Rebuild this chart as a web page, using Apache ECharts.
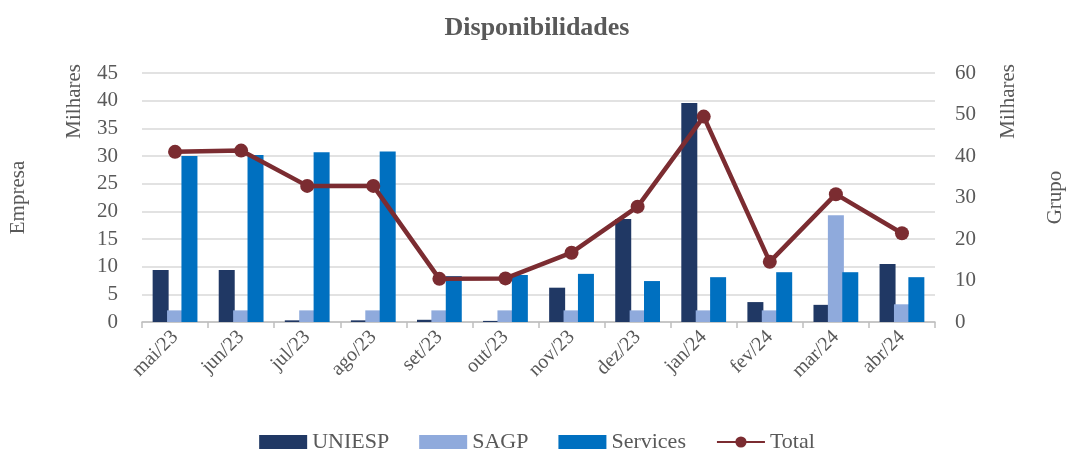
<!DOCTYPE html>
<html>
<head>
<meta charset="utf-8">
<script src="https://cdn.jsdelivr.net/npm/echarts@6/dist/echarts.min.js"></script>
<style>
  html, body { margin: 0; padding: 0; background: #fff; }
  #chart { width: 1074px; height: 452px; }
</style>
</head>
<body>
<div id="chart"></div>
<script>
  // meses
  const categorias = ['mai/23', 'jun/23', 'jul/23', 'ago/23', 'set/23', 'out/23',
                      'nov/23', 'dez/23', 'jan/24', 'fev/24', 'mar/24', 'abr/24'];
  // valores em milhares (eixo Empresa)
  const uniesp   = [9.4, 9.4, 0.3, 0.3, 0.4, 0.2, 6.2, 18.6, 39.6, 3.6, 3.1, 10.5];
  const sagp     = [2.1, 2.1, 2.1, 2.1, 2.1, 2.1, 2.1, 2.1, 2.1, 2.1, 19.3, 3.2];
  const services = [30.0, 30.2, 30.7, 30.8, 8.3, 8.5, 8.7, 7.4, 8.1, 9.0, 9.0, 8.1];
  // total em milhares (eixo Grupo)
  const total    = [41.0, 41.3, 32.8, 32.8, 10.4, 10.5, 16.7, 27.8, 49.5, 14.5, 30.8, 21.4];

  const fonte = 'Liberation Serif, serif';
  const cinza = '#595959';

  const myChart = echarts.init(document.getElementById('chart'));

  const option = {
    backgroundColor: '#fff',
    textStyle: { fontFamily: fonte },
    title: {
      text: 'Disponibilidades',
      left: 'center',
      top: 10,
      textStyle: { fontFamily: fonte, fontSize: 26, fontWeight: 'bold', color: cinza }
    },
    grid: { left: 142, right: 129, top: 73, bottom: 130 },
    legend: {
      bottom: -6,
      left: 'center',
      itemWidth: 48,
      itemHeight: 14,
      itemGap: 30,
      textStyle: { fontFamily: fonte, fontSize: 22, color: cinza },
      data: [
        { name: 'UNIESP', icon: 'rect' },
        { name: 'SAGP', icon: 'rect' },
        { name: 'Services', icon: 'rect' },
        { name: 'Total' }
      ]
    },
    xAxis: {
      type: 'category',
      data: categorias,
      axisLine: { lineStyle: { color: '#bfbfbf', width: 1.5 } },
      axisTick: { show: true, length: 6, lineStyle: { color: '#bfbfbf', width: 1.5 } },
      axisLabel: { rotate: 45, fontSize: 20, color: cinza, fontFamily: fonte, margin: 12 }
    },
    yAxis: [
      {
        type: 'value',
        min: 0, max: 45, interval: 5,
        name: 'Empresa',
        nameLocation: 'middle',
        nameGap: 113,
        nameRotate: 90,
        nameTextStyle: { fontSize: 21, color: cinza, fontFamily: fonte },
        axisLabel: { fontSize: 21, color: cinza, fontFamily: fonte, margin: 24 },
        axisLine: { show: false },
        axisTick: { show: false },
        splitLine: { lineStyle: { color: '#d9d9d9', width: 1.5 } }
      },
      {
        type: 'value',
        min: 0, max: 60, interval: 10,
        name: 'Grupo',
        nameLocation: 'middle',
        nameGap: 110,
        nameRotate: 90,
        nameTextStyle: { fontSize: 21, color: cinza, fontFamily: fonte },
        axisLabel: { fontSize: 21, color: cinza, fontFamily: fonte, margin: 20 },
        axisLine: { show: false },
        axisTick: { show: false },
        splitLine: { show: false }
      }
    ],
    graphic: [
      {
        type: 'text', left: 64, top: 64, rotation: Math.PI / 2,
        style: { text: 'Milhares', font: '21px "Liberation Serif"', fill: cinza }
      },
      {
        type: 'text', left: 998, top: 64, rotation: Math.PI / 2,
        style: { text: 'Milhares', font: '21px "Liberation Serif"', fill: cinza }
      }
    ],
    series: [
      {
        name: 'UNIESP', type: 'bar', yAxisIndex: 0, data: uniesp,
        barWidth: 16, barGap: '-10%',
        itemStyle: { color: '#203864' }
      },
      {
        name: 'SAGP', type: 'bar', yAxisIndex: 0, data: sagp,
        barWidth: 16, barGap: '-10%',
        itemStyle: { color: '#8faadc' }
      },
      {
        name: 'Services', type: 'bar', yAxisIndex: 0, data: services,
        barWidth: 16, barGap: '-10%',
        itemStyle: { color: '#0070c0' }
      },
      {
        name: 'Total', type: 'line', yAxisIndex: 1, data: total,
        symbol: 'circle', symbolSize: 14,
        lineStyle: { color: '#7b2c31', width: 4.5 },
        itemStyle: { color: '#7b2c31' },
        z: 5
      }
    ]
  };

  myChart.setOption(option);
</script>
</body>
</html>
